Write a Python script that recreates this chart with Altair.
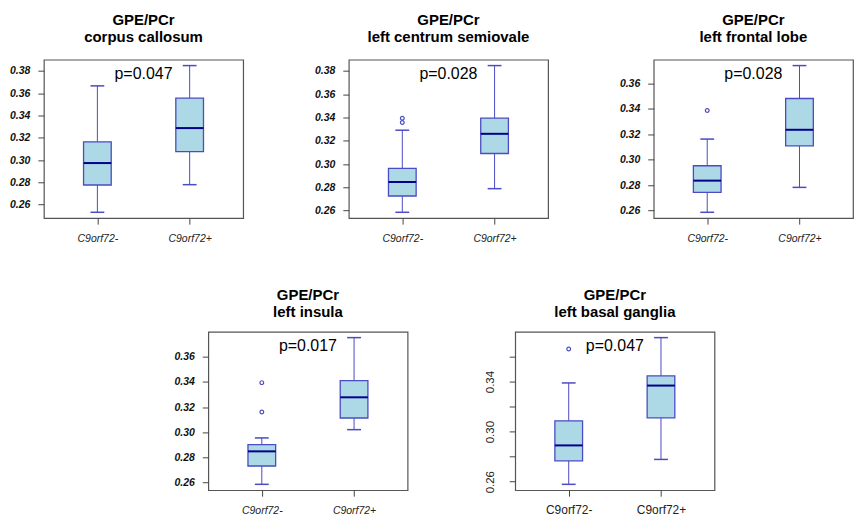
import altair as alt
import pandas as pd

# ---------------- data ----------------
titles = ["corpus callosum", "left centrum semiovale", "left frontal lobe",
          "left insula", "left basal ganglia"]
p_values = ["p=0.047", "p=0.028", "p=0.028", "p=0.017", "p=0.047"]
groups = ["C9orf72-", "C9orf72+"]

# five-number summaries for each panel
neg_low = [0.2531, 0.2586, 0.2587, 0.2584, 0.2579]
neg_q1 = [0.2776, 0.2726, 0.2744, 0.2730, 0.2767]
neg_med = [0.2973, 0.2846, 0.2836, 0.2847, 0.2890]
neg_q3 = [0.3164, 0.2963, 0.2953, 0.2901, 0.3086]
neg_high = [0.3666, 0.3291, 0.3163, 0.2954, 0.3389]

pos_low = [0.2779, 0.2789, 0.2783, 0.3020, 0.2778]
pos_q1 = [0.3075, 0.3091, 0.3110, 0.3113, 0.3110]
pos_med = [0.3287, 0.3260, 0.3236, 0.3278, 0.3368]
pos_q3 = [0.3555, 0.3394, 0.3482, 0.3411, 0.3445]
pos_high = [0.3848, 0.3846, 0.3741, 0.3754, 0.3751]

neg_outliers = [[], [0.3394, 0.3357], [0.3388], [0.3395, 0.3161], [0.3660]]
pos_outliers = [[], [], [], [], []]

y_ticks = [
    [0.26, 0.28, 0.30, 0.32, 0.34, 0.36, 0.38],
    [0.26, 0.28, 0.30, 0.32, 0.34, 0.36, 0.38],
    [0.26, 0.28, 0.30, 0.32, 0.34, 0.36],
    [0.26, 0.28, 0.30, 0.32, 0.34, 0.36],
    [0.26, 0.28, 0.30, 0.32, 0.34, 0.36],
]

# ---------------- styling ----------------
FONT = "Liberation Sans"
BOX_FILL = "#ADD8E6"
LINE_COL = "#4B4BC3"
MED_COL = "#00008B"
HALF_BOX = 0.15
HALF_CAP = 0.075
EXT = 34


def panel(i, plain=False, title_offset=15):
    box = pd.DataFrame({
        "pos": [1, 2],
        "low": [neg_low[i], pos_low[i]],
        "q1": [neg_q1[i], pos_q1[i]],
        "med": [neg_med[i], pos_med[i]],
        "q3": [neg_q3[i], pos_q3[i]],
        "high": [neg_high[i], pos_high[i]],
    })
    outl = pd.DataFrame({
        "pos": [1] * len(neg_outliers[i]) + [2] * len(pos_outliers[i]),
        "val": neg_outliers[i] + pos_outliers[i],
    })
    if len(outl) == 0:
        outl = pd.DataFrame({"pos": pd.Series([], dtype=float),
                             "val": pd.Series([], dtype=float)})

    all_vals = box[["low", "high"]].values.flatten().tolist() + outl["val"].tolist()
    lo, hi = min(all_vals), max(all_vals)
    rng = hi - lo
    ydom = [lo - 0.04 * rng, hi + 0.04 * rng]
    xdom = [0.5 - 0.04 * 2, 2.5 + 0.04 * 2]

    xs = alt.Scale(domain=xdom, nice=False, zero=False)
    ys = alt.Scale(domain=ydom, nice=False, zero=False)

    label_expr = f"datum.value == 1 ? '{groups[0]}' : '{groups[1]}'"
    if plain:
        xaxis = alt.Axis(values=[1, 2], labelExpr=label_expr, title=None,
                         domain=False, grid=False, tickSize=6, labelPadding=8,
                         labelFont=FONT, labelFontSize=12, labelColor="#222",
                         tickColor="#444")
        yaxis = alt.Axis(values=y_ticks[i], format=".2f", title=None,
                         labelExpr="round(datum.value*100) % 4 == 2 ? format(datum.value, '.2f') : ''",
                         domain=False, grid=False, tickSize=6, labelPadding=14,
                         labelAngle=270, labelFont=FONT, labelFontSize=11.5,
                         labelColor="#222", tickColor="#444",
                         minExtent=EXT, maxExtent=EXT)
    else:
        xaxis = alt.Axis(values=[1, 2], labelExpr=label_expr, title=None,
                         domain=False, grid=False, tickSize=6, labelPadding=9,
                         labelFont=FONT, labelFontSize=10.5, labelFontStyle="italic",
                         labelColor="#222", tickColor="#444")
        yaxis = alt.Axis(values=y_ticks[i], format=".2f", title=None,
                         domain=False, grid=False, tickSize=6, labelPadding=8,
                         labelFont=FONT, labelFontSize=10.5, labelFontStyle="italic",
                         labelFontWeight="bold", labelColor="#111", tickColor="#444",
                         minExtent=EXT, maxExtent=EXT)

    base = alt.Chart(box).transform_calculate(
        bx1=f"datum.pos - {HALF_BOX}", bx2=f"datum.pos + {HALF_BOX}",
        cx1=f"datum.pos - {HALF_CAP}", cx2=f"datum.pos + {HALF_CAP}",
    )

    whisk_lo = base.mark_rule(color=LINE_COL, strokeWidth=1).encode(
        x=alt.X("pos:Q", scale=xs, axis=xaxis),
        y=alt.Y("low:Q", scale=ys, axis=yaxis), y2="q1:Q")
    whisk_hi = base.mark_rule(color=LINE_COL, strokeWidth=1).encode(
        x=alt.X("pos:Q", scale=xs, axis=xaxis),
        y=alt.Y("q3:Q", scale=ys, axis=yaxis), y2="high:Q")
    cap_lo = base.mark_rule(color=LINE_COL, strokeWidth=1.5).encode(
        x=alt.X("cx1:Q", scale=xs, axis=xaxis), x2="cx2:Q",
        y=alt.Y("low:Q", scale=ys, axis=yaxis))
    cap_hi = base.mark_rule(color=LINE_COL, strokeWidth=1.5).encode(
        x=alt.X("cx1:Q", scale=xs, axis=xaxis), x2="cx2:Q",
        y=alt.Y("high:Q", scale=ys, axis=yaxis))
    rect = base.mark_rect(fill=BOX_FILL, stroke=LINE_COL, strokeWidth=1.3).encode(
        x=alt.X("bx1:Q", scale=xs, axis=xaxis), x2="bx2:Q",
        y=alt.Y("q1:Q", scale=ys, axis=yaxis), y2="q3:Q")
    med = base.mark_rule(color=MED_COL, strokeWidth=2).encode(
        x=alt.X("bx1:Q", scale=xs, axis=xaxis), x2="bx2:Q",
        y=alt.Y("med:Q", scale=ys, axis=yaxis))
    pts = alt.Chart(outl).mark_point(shape="circle", filled=False, color=LINE_COL,
                                     size=14, strokeWidth=1.2, opacity=1).encode(
        x=alt.X("pos:Q", scale=xs, axis=xaxis),
        y=alt.Y("val:Q", scale=ys, axis=yaxis))
    ptext = alt.Chart(pd.DataFrame({"label": [p_values[i]]})).mark_text(
        font=FONT, fontSize=16, color="#000", baseline="middle", align="center"
    ).encode(x=alt.datum(1.5, scale=xs), y=alt.value(14), text="label:N")

    return alt.layer(whisk_lo, whisk_hi, cap_lo, cap_hi, rect, med, pts, ptext).properties(
        width=200, height=159,
        title=alt.TitleParams(text=["GPE/PCr", titles[i]], font=FONT, fontSize=15,
                              fontWeight="bold", color="#000", frame="group",
                              anchor="middle", offset=title_offset, lineHeight=17),
    )


# invisible spacer that shifts the second row to the right
spacer = alt.Chart(pd.DataFrame({"v": [0]})).mark_point(opacity=0).encode(
    y=alt.Y("v:Q", axis=alt.Axis(labels=False, ticks=False, domain=False, grid=False,
                                 title=None, minExtent=EXT, maxExtent=EXT))
).properties(width=56, height=159, view=alt.ViewBackground(stroke="transparent"))

row1 = alt.hconcat(panel(0), panel(1), panel(2), spacing=69)
row2 = alt.hconcat(spacer, panel(3, title_offset=12),
                   panel(4, plain=True, title_offset=12), spacing=72)

chart = alt.vconcat(row1, row2, spacing=42).properties(
    padding={"left": 0, "top": 3, "right": 0, "bottom": 0},
    background="white",
).configure_view(stroke="#555555", strokeWidth=1.2)

chart.save("out.html", embed_options={"renderer": "svg", "actions": False})
